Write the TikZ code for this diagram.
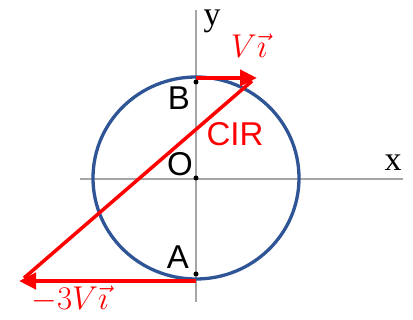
\RequirePackage{fix-cm}
\documentclass[tikz,border=0pt]{standalone}
\usepackage{fontspec}
\setmainfont{Liberation Serif}
\newfontfamily\lsans{Liberation Sans}
\usetikzlibrary{arrows.meta}
\definecolor{axisgray}{HTML}{A6A6A6}
\definecolor{circblue}{HTML}{2F5597}
\definecolor{vred}{HTML}{FF0000}
\begin{document}
\begin{tikzpicture}[x=1pt,y=-1pt,
  axis/.style={draw=axisgray,line width=1.5pt},
  vel/.style={draw=vred,line width=4.2pt,-{Triangle[length=17pt,width=16pt]}},
  ptlabel/.style={font=\lsans\fontsize{33}{38}\selectfont,inner sep=0pt},
  axlabel/.style={font=\fontsize{34}{40}\selectfont,inner sep=0pt},
  vlabel/.style={text=vred,font=\fontsize{33}{38}\selectfont,inner sep=0pt},
  dotmark/.style={fill=black,circle,inner sep=0pt,minimum size=5pt}]
\useasboundingbox (0,0) rectangle (413,320);
\fill[white] (0,0) rectangle (413,320);
% axes
\coordinate (xa) at (80,179);
\coordinate (xb) at (403,179);
\coordinate (ya) at (196,10);
\coordinate (yb) at (196,302);
\draw[axis] (xa) -- (xb);
\draw[axis] (ya) -- (yb);
% circle
\coordinate (O) at (196,178);
\draw[circblue,line width=3.3pt] (O) ellipse [x radius=103pt, y radius=101pt];
% velocity arrows
\coordinate (Bs) at (196,78);
\coordinate (Bt) at (257,78);
\coordinate (As) at (196,281);
\coordinate (At) at (19,281);
\draw[vel] (Bs) -- (Bt);
\draw[vel] (As) -- (At);
\coordinate (Ds) at (252,81);
\coordinate (De) at (24,278);
\draw[vred,line width=3.5pt] (Ds) -- (De);
% dots
\node[dotmark] (Bd) at (196,82) {};
\node[dotmark] (Od) at (196,178) {};
\node[dotmark] (Ad) at (196,274) {};
% labels
\node[axlabel] (ylab) at (212,21) {y};
\node[axlabel] (xlab) at (393,163) {x};
\node[ptlabel] (B) at (179,98) {B};
\node[ptlabel] (Ol) at (180,164) {O};
\node[ptlabel] (A) at (178,257) {A};
\node[ptlabel,text=vred] (cir) at (235,134) {CIR};
\node[vlabel] (v1) at (249,46) {$V\vec{\imath}$};
\node[vlabel] (v2) at (70,299) {$-3V\vec{\imath}$};
\end{tikzpicture}
\end{document}
